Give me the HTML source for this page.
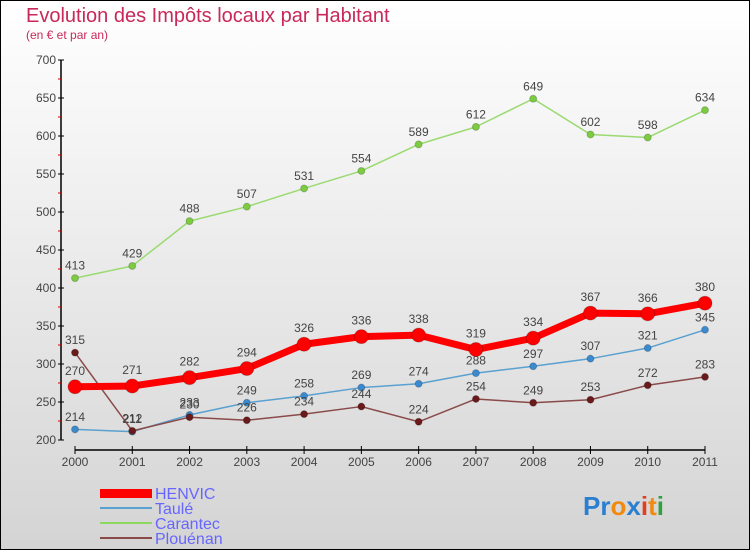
<!DOCTYPE html>
<html><head><meta charset="utf-8"><style>
body{margin:0;width:750px;height:550px;overflow:hidden}
svg{display:block;font-family:"Liberation Sans",sans-serif}
</style></head><body>
<svg width="750" height="550">
<defs><linearGradient id="bg" x1="0" y1="0" x2="0" y2="1"><stop offset="0" stop-color="#ffffff"/><stop offset="1" stop-color="#d4d4d4"/></linearGradient></defs>
<rect x="0.5" y="0.5" width="749" height="549" fill="url(#bg)" stroke="#000"/>
<text x="26" y="22" font-size="20" fill="#c8285a">Evolution des Impôts locaux par Habitant</text>
<text x="26" y="39" font-size="12" fill="#c8285a">(en € et par an)</text>
<g id="axes"></g>
<g id="series"></g>
<g id="legend">
<rect x="100" y="489" width="52" height="9" fill="#f00"/>
<text x="155" y="499" font-size="16" fill="#6666ff">HENVIC</text>
<line x1="100" y1="508" x2="152" y2="508" stroke="#5aa0d0" stroke-width="2"/>
<text x="155" y="514" font-size="16" fill="#6666ff">Taulé</text>
<line x1="100" y1="523" x2="152" y2="523" stroke="#8fd860" stroke-width="2"/>
<text x="155" y="529" font-size="16" fill="#6666ff">Carantec</text>
<line x1="100" y1="538" x2="152" y2="538" stroke="#8a4a4a" stroke-width="2"/>
<text x="155" y="544" font-size="16" fill="#6666ff">Plouénan</text>
</g>
<text x="583" y="515" font-size="26" font-weight="bold"><tspan fill="#2a7fd0">Pr</tspan><tspan fill="#f08a10">o</tspan><tspan fill="#2a7fd0">x</tspan><tspan fill="#e04020">i</tspan><tspan fill="#f08a10">t</tspan><tspan fill="#30a040">i</tspan></text>
</svg>
<script>
const years=["2000","2001","2002","2003","2004","2005","2006","2007","2008","2009","2010","2011"];
const henvic=[270,271,282,294,326,336,338,319,334,367,366,380];
const taule=[214,211,233,249,258,269,274,288,297,307,321,345];
const carantec=[413,429,488,507,531,554,589,612,649,602,598,634];
const plouenan=[315,212,230,226,234,244,224,254,249,253,272,283];
const yTicks=[200,250,300,350,400,450,500,550,600,650,700];
const NS="http://www.w3.org/2000/svg";
const X=i=>75+i*(630/11);
const Y=v=>440-(v-200)*0.76;
function mk(t,a,p){const e=document.createElementNS(NS,t);for(const k in a)e.setAttribute(k,a[k]);p.appendChild(e);return e;}
const ax=document.getElementById('axes');
let yl=mk('line',{x1:61,y1:60,x2:61,y2:440,stroke:'#000','stroke-width':1.5},ax);


yTicks.forEach((v,i)=>{
 mk('line',{x1:58,y1:Y(v),x2:64,y2:Y(v),stroke:'#000'},ax);
 if(i<yTicks.length-1) mk('line',{x1:58,y1:Y(v+25),x2:61,y2:Y(v+25),stroke:'#d00'},ax);
 const t=mk('text',{x:56,y:Y(v)+4,'font-size':12,fill:'#444','text-anchor':'end'},ax);t.textContent=v;
 
 
});
let xl=mk('line',{x1:75,y1:450,x2:705,y2:450,stroke:'#000','stroke-width':1.5},ax);


years.forEach((y,i)=>{
 mk('line',{x1:X(i),y1:446,x2:X(i),y2:454,stroke:'#000'},ax);
 const t=mk('text',{x:X(i),y:466,'font-size':12,fill:'#444','text-anchor':'middle'},ax);t.textContent=y;
 
 
});
const sg=document.getElementById('series');
function series(data,color,dot,w,r,name){
 const g=mk('g',{},sg);
 
 
 mk('polyline',{points:data.map((v,i)=>X(i)+','+Y(v)).join(' '),fill:'none',stroke:color,'stroke-width':w,'stroke-linejoin':'round'},g);
 data.forEach((v,i)=>{
  const c=mk('circle',{cx:X(i),cy:Y(v),r:r,fill:dot,stroke:'rgba(0,0,0,0.2)'},g);
  
  
  const t=mk('text',{x:X(i),y:Y(v)-r-5,'font-size':12,fill:'#444','text-anchor':'middle'},g);t.textContent=v;
  
  
 });
}
series(carantec,'#9ada70','#7ccc40',1.5,3.5,'carantec');
series(taule,'#5aa0d0','#3a8ad0',1.5,3.5,'taule');
series(plouenan,'#8a4a4a','#6a1a1a',1.5,3.5,'plouenan');
series(henvic,'#f00','#f00',7,7,'henvic');
</script>
</body></html>
